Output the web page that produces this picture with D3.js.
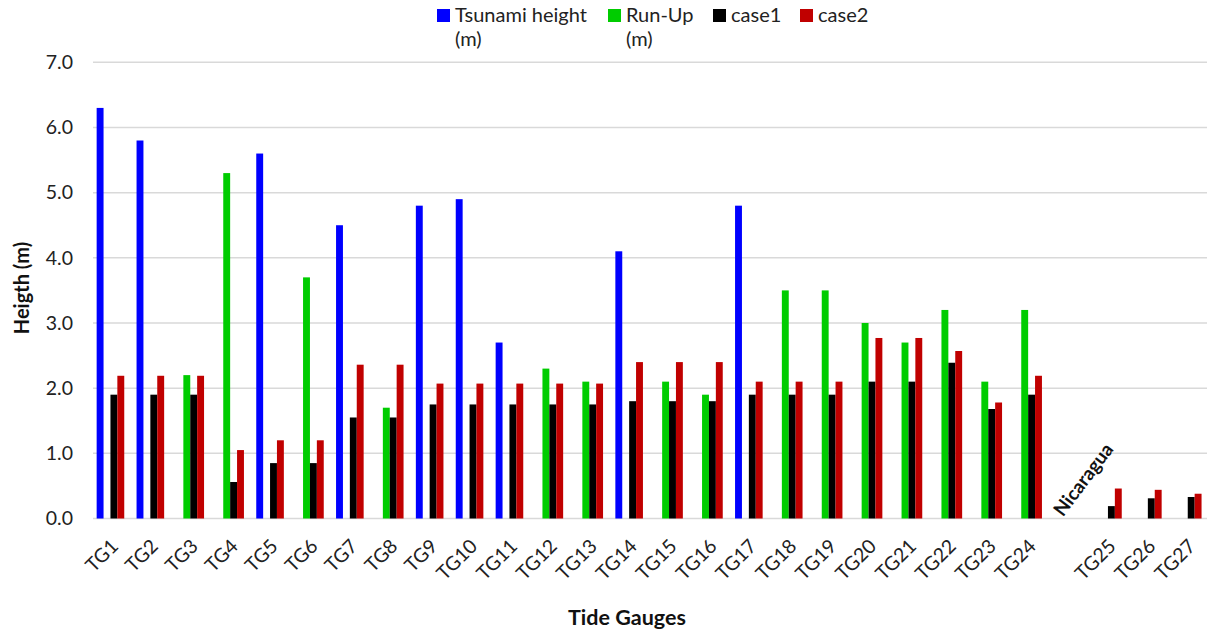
<!DOCTYPE html>
<html>
<head>
<meta charset="utf-8">
<script src="https://cdn.jsdelivr.net/npm/d3@7"></script>
<style>
  html, body { margin: 0; padding: 0; background: #fff; }
  svg { display: block; font-family: Lato, "Open Sans", sans-serif; }
</style>
</head>
<body>
<svg id="chart" width="1207" height="635"></svg>
<script>
// Tide gauge stations; the blank slot separates the Nicaragua gauges
const categories = ["TG1","TG2","TG3","TG4","TG5","TG6","TG7","TG8","TG9","TG10",
  "TG11","TG12","TG13","TG14","TG15","TG16","TG17","TG18","TG19","TG20",
  "TG21","TG22","TG23","TG24"," ","TG25","TG26","TG27"];

// Observed values (m); each gauge reports either tsunami height or run-up
const tsunamiHeight = [6.3,5.8,null,null,5.6,null,4.5,null,4.8,4.9,
  2.7,null,null,4.1,null,null,4.8,null,null,null,
  null,null,null,null,null,null,null,null];
const runUp = [null,null,2.2,5.3,null,3.7,null,1.7,null,null,
  null,2.3,2.1,null,2.1,1.9,null,3.5,3.5,3.0,
  2.7,3.2,2.1,3.2,null,null,null,null];
// Simulated heights (m)
const case1 = [1.9,1.9,1.9,0.56,0.85,0.85,1.55,1.55,1.75,1.75,
  1.75,1.75,1.75,1.8,1.8,1.8,1.9,1.9,1.9,2.1,
  2.1,2.39,1.68,1.9,null,0.19,0.31,0.33];
const case2 = [2.19,2.19,2.19,1.05,1.2,1.2,2.36,2.36,2.07,2.07,
  2.07,2.07,2.07,2.4,2.4,2.4,2.1,2.1,2.1,2.77,
  2.77,2.57,1.78,2.19,null,0.46,0.44,0.38];

const seriesNames = ["Tsunami height (m)","Run-Up (m)","case1","case2"];
const seriesColors = ["#0000ff","#00cc00","#000000","#c00000"];
const yTicks = [0,1,2,3,4,5,6,7];

const seriesData = [tsunamiHeight, runUp, case1, case2];

const svg = d3.select("#chart");
const FONT = "Lato, 'Open Sans', sans-serif";

const plot = { left: 93, right: 1207, top: 62.3, bottom: 518.5 };

const x = d3.scaleBand().domain(categories).range([90.5, 1207.7]);
const groupWidth = 27.6;
const xs = d3.scaleBand().domain(d3.range(seriesNames.length))
  .range([(x.bandwidth() - groupWidth) / 2, (x.bandwidth() + groupWidth) / 2]);
const y = d3.scaleLinear().domain([0, 7]).range([plot.bottom, plot.top]);

// Horizontal gridlines
svg.append("g").selectAll("line").data(yTicks).join("line")
  .attr("x1", plot.left).attr("x2", plot.right)
  .attr("y1", d => y(d)).attr("y2", d => y(d))
  .attr("stroke", "#d9d9d9").attr("stroke-width", 1.5);

// Y axis tick labels
const yAxis = d3.axisLeft(y).tickValues(yTicks).tickFormat(d3.format(".1f"))
  .tickSize(0).tickPadding(0);
svg.append("g").attr("transform", `translate(73,0)`).call(yAxis)
  .call(g => g.select(".domain").remove())
  .selectAll("text").attr("font-size", 19.5).attr("fill", "#222")
  .attr("font-family", FONT);

// Bars
seriesData.forEach((vals, si) => {
  svg.append("g").selectAll("rect")
    .data(categories.map((c, i) => ({ c, v: vals[i] })).filter(d => d.v != null))
    .join("rect")
    .attr("x", d => x(d.c) + xs(si))
    .attr("width", xs.bandwidth())
    .attr("y", d => y(d.v))
    .attr("height", d => y(0) - y(d.v))
    .attr("fill", seriesColors[si]);
});

// X axis tick labels, slanted
const xAxis = d3.axisBottom(x).tickSize(0).tickPadding(0)
  .tickFormat(d => d.trim());
svg.append("g").attr("transform", `translate(0,${plot.bottom})`).call(xAxis)
  .call(g => g.select(".domain").remove())
  .selectAll("text")
  .attr("font-size", 19.5).attr("fill", "#222")
  .attr("font-family", FONT)
  .attr("text-anchor", "end").attr("dy", null).attr("y", null)
  .attr("transform", "translate(9,29) rotate(-45)");

// Region annotation
svg.append("text")
  .attr("transform", `translate(${x(" ") + x.bandwidth() / 2 - 5},${plot.bottom - 1}) rotate(-53)`)
  .attr("font-size", 19).attr("font-weight", "bold").attr("fill", "#111")
  .attr("font-family", FONT)
  .text("Nicaragua");

// Axis titles
svg.append("text")
  .attr("transform", "translate(29,288) rotate(-90)")
  .attr("text-anchor", "middle").attr("font-size", 20).attr("font-weight", "bold")
  .attr("fill", "#111").text("Heigth (m)");
svg.append("text")
  .attr("x", 627).attr("y", 625).attr("text-anchor", "middle")
  .attr("font-size", 21.5).attr("font-weight", "bold").attr("fill", "#111")
  .text("Tide Gauges");

// Legend
const legendItems = [
  { x: 437, lines: ["Tsunami height", "(m)"] },
  { x: 608, lines: ["Run-Up", "(m)"] },
  { x: 713, lines: ["case1"] },
  { x: 800, lines: ["case2"] }
];
const lg = svg.append("g").selectAll("g").data(legendItems).join("g")
  .attr("transform", d => `translate(${d.x},0)`);
lg.append("rect").attr("x", 0).attr("y", 9).attr("width", 13).attr("height", 13)
  .attr("fill", (d, i) => seriesColors[i]);
lg.append("text").attr("font-size", 20).attr("fill", "#222")
  .selectAll("tspan").data(d => d.lines).join("tspan")
  .attr("x", 18).attr("y", (d, i) => 22 + i * 24).text(d => d);
</script>
</body>
</html>
